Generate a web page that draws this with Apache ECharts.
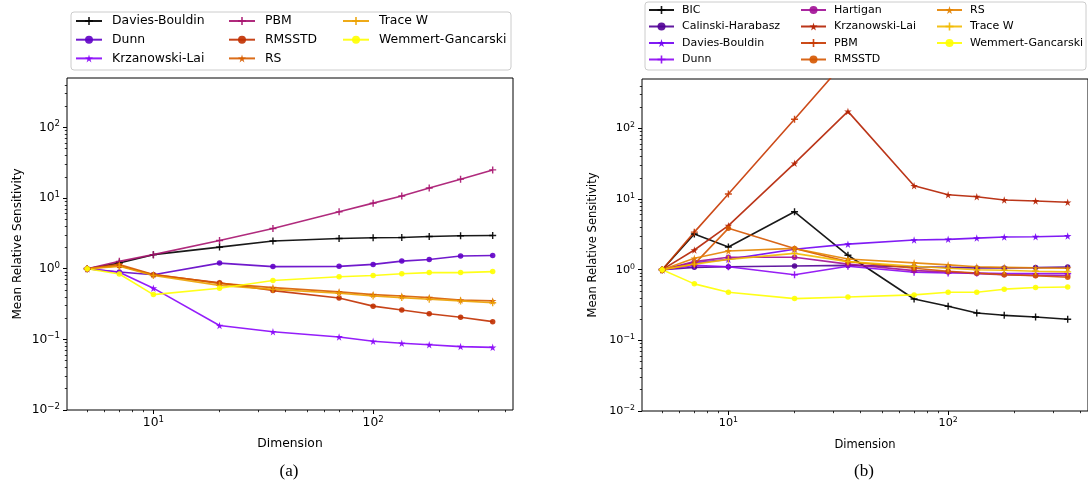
<!DOCTYPE html>
<html><head><meta charset="utf-8">
<script src="https://cdn.jsdelivr.net/npm/echarts@6/dist/echarts.min.js"></script>
<style>html,body{margin:0;padding:0;background:#fff}#c{width:1088px;height:487px}</style>
</head><body><div id="c"></div>
<script>
// ---------- data ----------
const dimensions = [5, 7, 10, 20, 35, 70, 100, 135, 180, 250, 350];

// panel (a)
const aNames = ['Davies-Bouldin', 'Dunn', 'Krzanowski-Lai', 'PBM', 'RMSSTD', 'RS', 'Trace W', 'Wemmert-Gancarski'];
const a_daviesBouldin = [1, 1.2, 1.58, 2.02, 2.46, 2.68, 2.74, 2.77, 2.86, 2.92, 2.95];
const a_dunn = [1, 0.9, 0.82, 1.2, 1.07, 1.08, 1.15, 1.28, 1.35, 1.51, 1.54];
const a_krzanowskiLai = [1, 0.89, 0.53, 0.157, 0.128, 0.108, 0.094, 0.088, 0.084, 0.079, 0.077];
const a_pbm = [1, 1.27, 1.58, 2.51, 3.71, 6.38, 8.47, 10.7, 13.9, 18.5, 25.0];
const a_rmsstd = [1, 1.1, 0.82, 0.63, 0.49, 0.385, 0.295, 0.26, 0.23, 0.205, 0.178];
const a_rs = [1, 1.15, 0.83, 0.62, 0.54, 0.47, 0.43, 0.41, 0.39, 0.36, 0.35];
const a_traceW = [1, 1.08, 0.8, 0.58, 0.51, 0.45, 0.41, 0.39, 0.37, 0.35, 0.33];
const a_wemmertGancarski = [1, 0.84, 0.43, 0.53, 0.68, 0.77, 0.8, 0.85, 0.88, 0.88, 0.91];

// panel (b)
const bNames = ['BIC', 'Calinski-Harabasz', 'Davies-Bouldin', 'Dunn', 'Hartigan', 'Krzanowski-Lai', 'PBM', 'RMSSTD', 'RS', 'Trace W', 'Wemmert-Gancarski'];
const b_bic = [1, 3.2, 2.1, 6.6, 1.6, 0.385, 0.303, 0.244, 0.226, 0.214, 0.199];
const b_calinskiHarabasz = [1, 1.08, 1.1, 1.13, 1.15, 1.1, 1.08, 1.06, 1.06, 1.07, 1.09];
const b_daviesBouldin = [1, 1.25, 1.4, 1.95, 2.3, 2.63, 2.69, 2.8, 2.9, 2.93, 3.0];
const b_dunn = [1, 1.15, 1.1, 0.85, 1.12, 0.92, 0.9, 0.9, 0.88, 0.88, 0.88];
const b_hartigan = [1, 1.3, 1.5, 1.5, 1.2, 0.97, 0.93, 0.88, 0.85, 0.83, 0.82];
const b_krzanowskiLai = [1, 1.9, 4.2, 32, 174, 15.4, 11.5, 10.8, 9.7, 9.4, 9.0];
const b_pbm = [1, 3.4, 11.8, 135, 980, 4000, 8000, 14000, 22000, 40000, 75000];
const b_rmsstd = [1, 1.2, 3.85, 2.0, 1.3, 1.05, 0.95, 0.9, 0.85, 0.82, 0.78];
const b_rs = [1, 1.45, 1.84, 2.0, 1.42, 1.25, 1.17, 1.1, 1.08, 1.06, 1.05];
const b_traceW = [1, 1.2, 1.4, 1.7, 1.3, 1.12, 1.05, 1.0, 0.98, 0.95, 0.93];
const b_wemmertGancarski = [1, 0.63, 0.48, 0.39, 0.41, 0.44, 0.48, 0.48, 0.53, 0.56, 0.57];

// axes
const xMin = 4.045, xMax = 433;
const yMin = 0.01, yMax = 500;
const xMajorTicks = [10, 100];
const xMinorTicks = [5, 6, 7, 8, 9, 20, 30, 40, 50, 60, 70, 80, 90, 200, 300, 400];
const yMajorTicks = [0.01, 0.1, 1, 10, 100];
const yMinorTicks = [0.02, 0.03, 0.04, 0.05, 0.06, 0.07, 0.08, 0.09, 0.2, 0.3, 0.4, 0.5, 0.6, 0.7, 0.8, 0.9,
  2, 3, 4, 5, 6, 7, 8, 9, 20, 30, 40, 50, 60, 70, 80, 90, 200, 300, 400];

// ---------- styling ----------
const aColors = ['#000000', '#6001c7', '#8806f9', '#a7146f', '#c13000', '#d75d00', '#eca100', '#ffff00'];
const bColors = ['#000000', '#510096', '#7202f3', '#8c07f3', '#a11096', '#b42000', '#c63700', '#d55700', '#e48300', '#f2ba00', '#ffff00'];
const SYM = {
  plus: 'path://M4,0H6V4H10V6H6V10H4V6H0V4H4Z',
  circle: 'circle',
  star: 'path://M50,0 L61,35 L98,35 L68,57 L79,91 L50,70 L21,91 L32,57 L2,35 L39,35 Z'
};
const SYMSIZE = {plus: 7, circle: 5.5, star: 7.5};
const cycle = ['plus', 'circle', 'star'];
const FONT = 'DejaVu Sans';

function sup(v) {
  const e = Math.round(Math.log10(v));
  return '{b|10}{s|' + (e < 0 ? '\u2212' + (-e) : String(e)) + '}';
}
function richFor(fs) {
  return {
    b: {fontSize: fs, fontFamily: FONT, color: '#000'},
    s: {fontSize: fs * 0.7, fontFamily: FONT, color: '#000', padding: [0, 0, fs * 0.55, 0]}
  };
}

function mkSeries(name, color, k, data, xi, yi) {
  const sym = cycle[k % 3];
  return {
    type: 'line', name: name, xAxisIndex: xi, yAxisIndex: yi,
    data: dimensions.map((d, i) => [d, data[i]]),
    symbol: SYM[sym], symbolSize: SYMSIZE[sym], showAllSymbol: true,
    itemStyle: {color: color, opacity: 0.9},
    lineStyle: {color: color, width: 1.6, opacity: 0.9},
    emphasis: {disabled: true}, animation: false, clip: true
  };
}

const aData = [a_daviesBouldin, a_dunn, a_krzanowskiLai, a_pbm, a_rmsstd, a_rs, a_traceW, a_wemmertGancarski];
const bData = [b_bic, b_calinskiHarabasz, b_daviesBouldin, b_dunn, b_hartigan, b_krzanowskiLai, b_pbm, b_rmsstd, b_rs, b_traceW, b_wemmertGancarski];

const series = [];
aNames.forEach((n, i) => series.push(mkSeries('a:' + n, aColors[i], i, aData[i], 0, 0)));
bNames.forEach((n, i) => series.push(mkSeries('b:' + n, bColors[i], i, bData[i], 2, 2)));

function xAxes(grid, fs, nameFs, gap) {
  return [
    {type: 'log', gridIndex: grid, min: xMin, max: xMax, position: 'bottom',
     name: 'Dimension', nameLocation: 'middle', nameGap: gap,
     nameTextStyle: {fontFamily: FONT, fontSize: nameFs, color: '#000'},
     axisLine: {show: false}, splitLine: {show: false},
     axisTick: {show: true, customValues: xMajorTicks, length: 4, lineStyle: {color: '#000', width: 1}},
     axisLabel: {customValues: xMajorTicks, formatter: v => sup(v), rich: richFor(fs), margin: 5}},
    {type: 'log', gridIndex: grid, min: xMin, max: xMax, position: 'bottom',
     axisLine: {show: false}, splitLine: {show: false}, axisLabel: {show: false},
     axisTick: {show: true, customValues: xMinorTicks, length: 2.2, lineStyle: {color: '#000', width: 0.8}}}
  ];
}
function yAxes(grid, fs, nameFs, gap) {
  return [
    {type: 'log', gridIndex: grid, min: yMin, max: yMax, position: 'left',
     name: 'Mean Relative Sensitivity', nameLocation: 'middle', nameGap: gap,
     nameTextStyle: {fontFamily: FONT, fontSize: nameFs, color: '#000'},
     axisLine: {show: false}, splitLine: {show: false},
     axisTick: {show: true, customValues: yMajorTicks, length: 4, lineStyle: {color: '#000', width: 1}},
     axisLabel: {customValues: yMajorTicks, formatter: v => sup(v), rich: richFor(fs), margin: 7}},
    {type: 'log', gridIndex: grid, min: yMin, max: yMax, position: 'left',
     axisLine: {show: false}, splitLine: {show: false}, axisLabel: {show: false},
     axisTick: {show: true, customValues: yMinorTicks, length: 2.2, lineStyle: {color: '#000', width: 0.8}}}
  ];
}

function legendCol(names, prefix, left, top, fs, lh, gap, itemW, pad) {
  return {
    data: names.map(n => prefix + n), orient: 'vertical', left: left, top: top, padding: 0,
    itemGap: gap, itemWidth: itemW, itemHeight: 10, selectedMode: false, z: 10,
    formatter: n => n.slice(2),
    textStyle: {fontFamily: FONT, fontSize: fs, lineHeight: lh, color: '#000', padding: [0, 0, 0, pad]}
  };
}

const option = {
  backgroundColor: '#fff',
  animation: false,
  grid: [
    {left: 67, top: 78, width: 446, height: 332, show: true, borderColor: '#000', borderWidth: 1, backgroundColor: '#fff'},
    {left: 642, top: 79, width: 447, height: 332, show: true, borderColor: '#000', borderWidth: 1, backgroundColor: '#fff'}
  ],
  xAxis: [...xAxes(0, 12.3, 12.3, 28), ...xAxes(1, 11.2, 11.5, 28)],
  yAxis: [...yAxes(0, 12.3, 12, 43), ...yAxes(1, 11.2, 11.5, 43)],
  legend: [
    legendCol(aNames.slice(0, 3), 'a:', 75, 14, 12.4, 14, 4.7, 26, 5),
    legendCol(aNames.slice(3, 6), 'a:', 228, 14, 12.4, 14, 4.7, 26, 5),
    legendCol(aNames.slice(6), 'a:', 342, 14, 12.4, 14, 4.7, 26, 5),
    legendCol(bNames.slice(0, 4), 'b:', 648, 3.5, 11, 13, 3.5, 25, 3),
    legendCol(bNames.slice(4, 8), 'b:', 800, 3.5, 11, 13, 3.5, 25, 3),
    legendCol(bNames.slice(8), 'b:', 936, 3.5, 11, 13, 3.5, 25, 3)
  ],
  graphic: {
    elements: [
      {type: 'rect', z: 1, shape: {x: 71, y: 12, width: 440, height: 58, r: 3}, style: {fill: '#ffffff', stroke: '#cccccc', lineWidth: 1}},
      {type: 'rect', z: 1, shape: {x: 645, y: 2, width: 441, height: 68, r: 3}, style: {fill: '#ffffff', stroke: '#cccccc', lineWidth: 1}},
      {type: 'text', x: 289, y: 472, style: {text: '(a)', fontFamily: 'Liberation Serif', fontSize: 17, fill: '#000', textAlign: 'center', textVerticalAlign: 'middle'}},
      {type: 'text', x: 864, y: 472, style: {text: '(b)', fontFamily: 'Liberation Serif', fontSize: 17, fill: '#000', textAlign: 'center', textVerticalAlign: 'middle'}}
    ]
  },
  series: series
};
const chart = echarts.init(document.getElementById('c'), null, {renderer: 'canvas'});
chart.setOption(option);
</script></body></html>
